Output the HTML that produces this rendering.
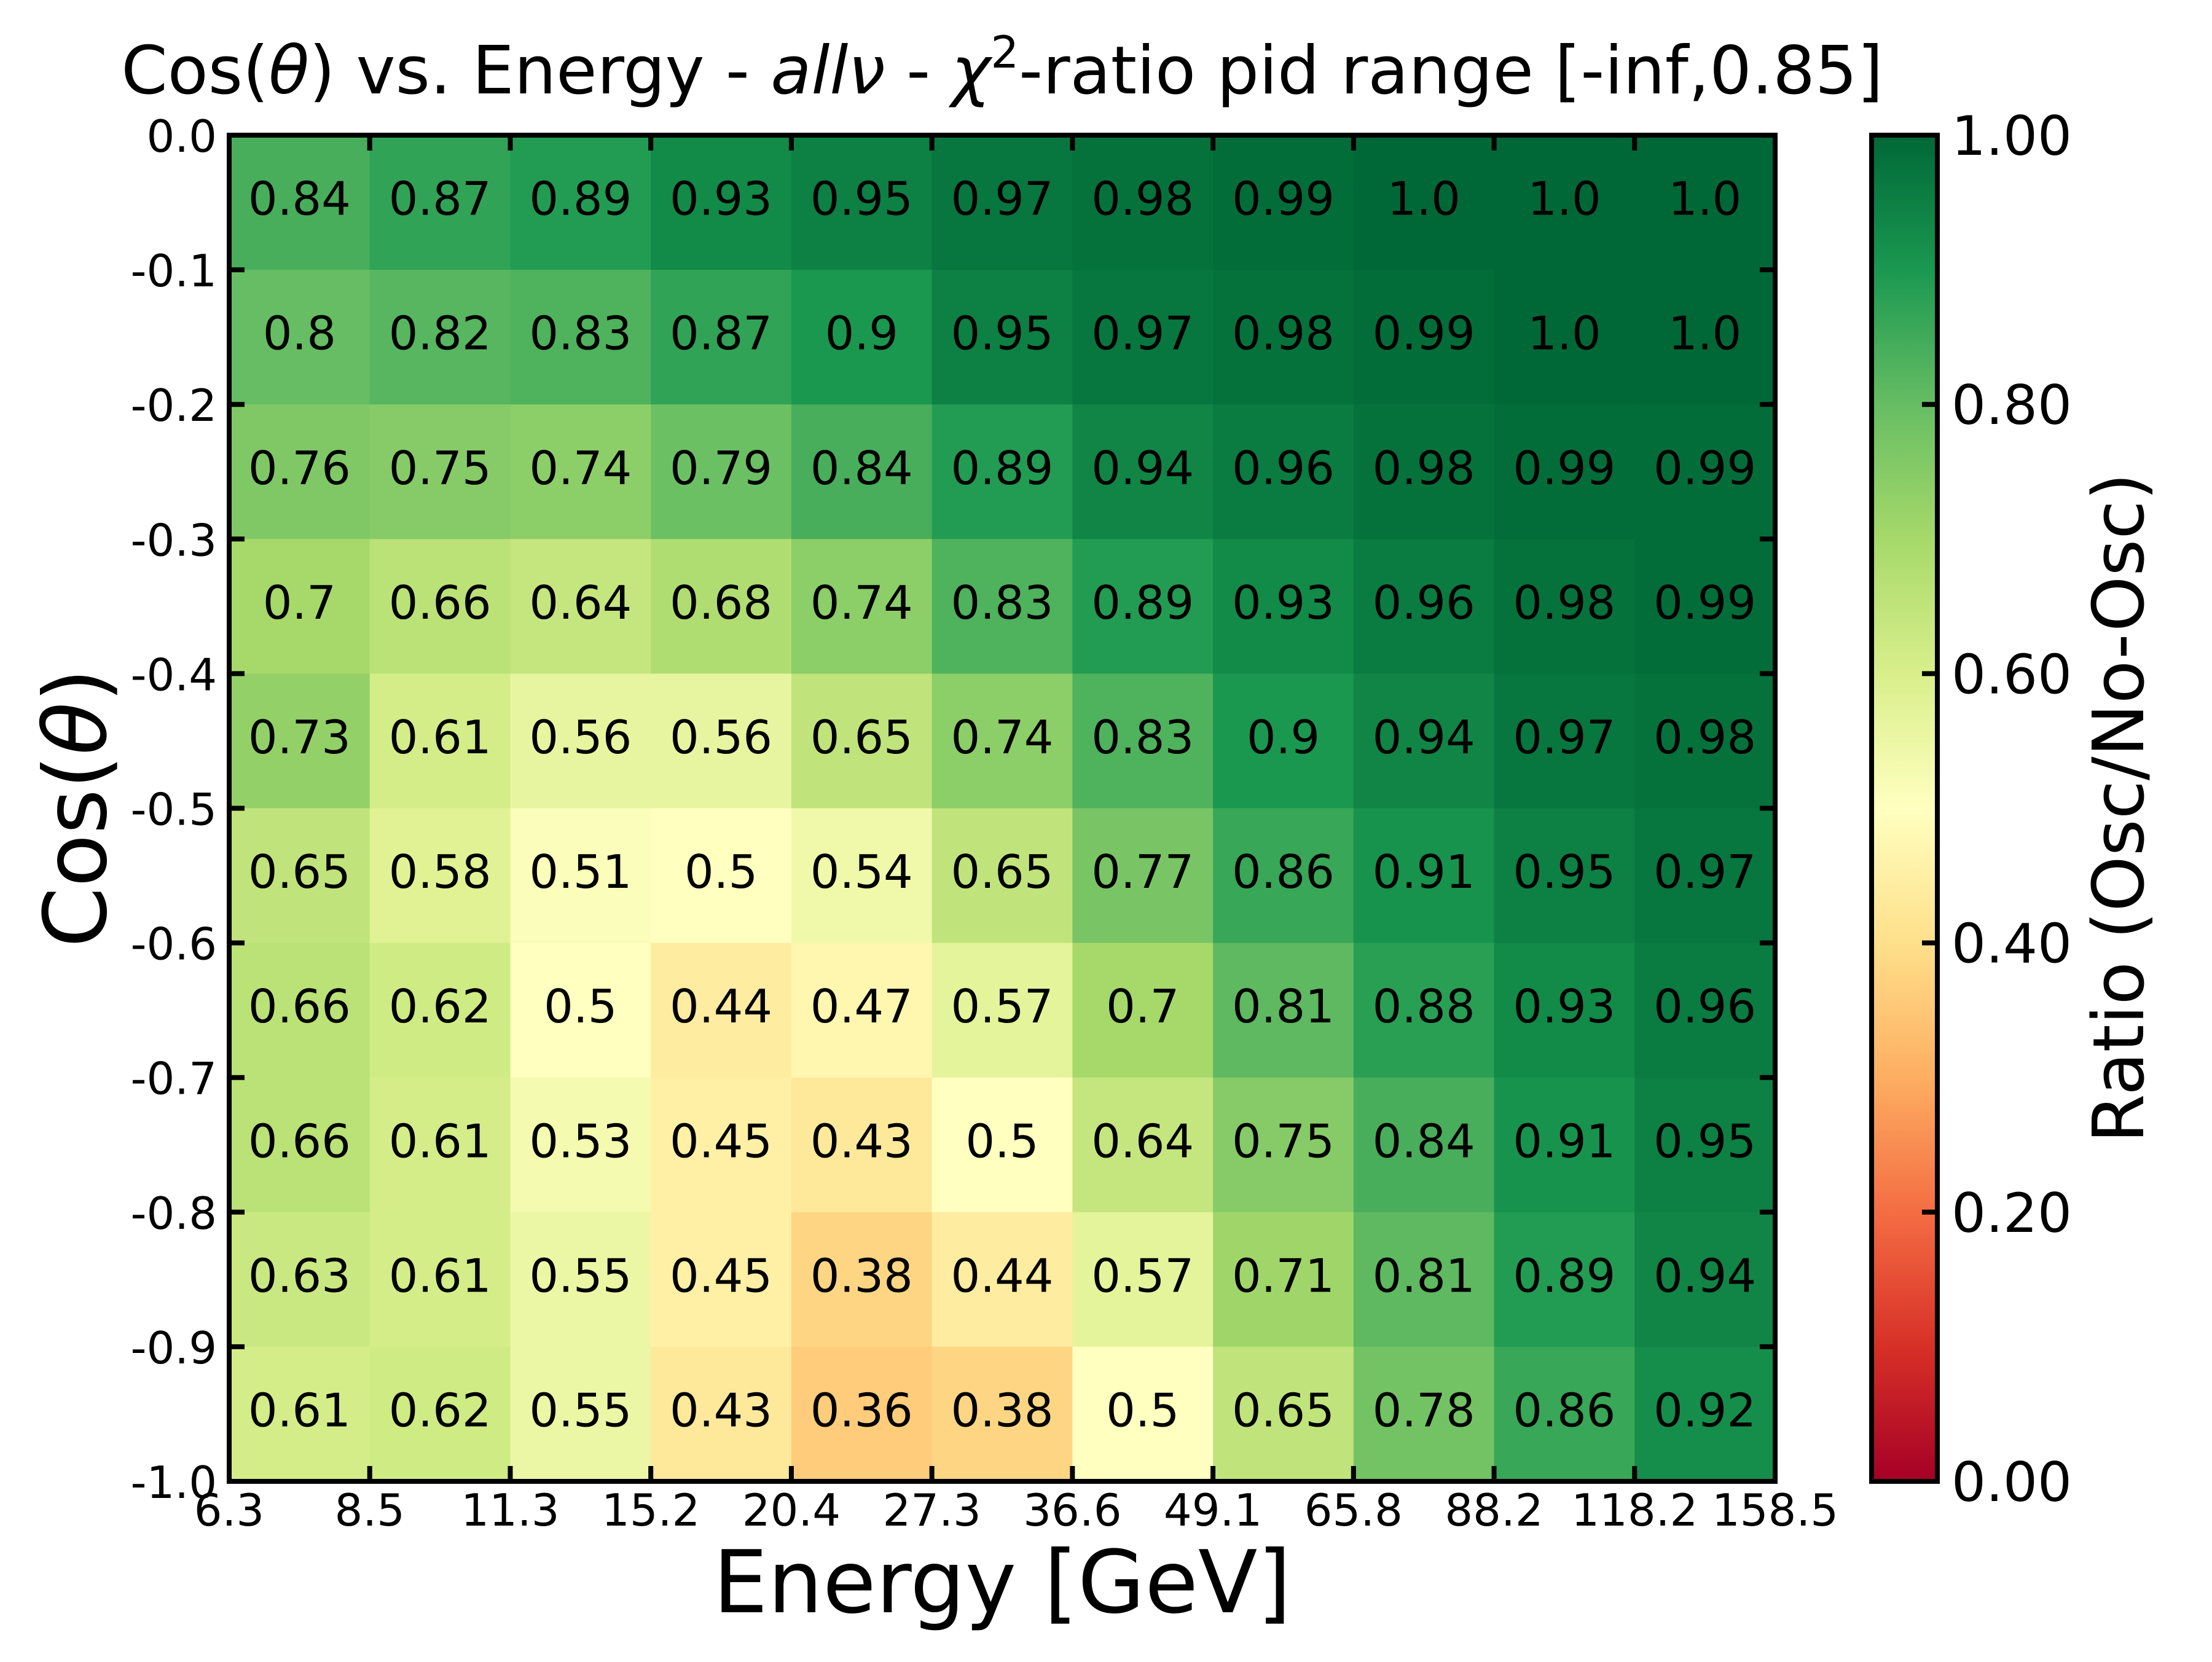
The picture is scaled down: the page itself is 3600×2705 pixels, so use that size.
<!DOCTYPE html>
<html><head><meta charset="utf-8">
<style>
html,body{margin:0;padding:0;background:#fff;}
svg text{font-family:"DejaVu Sans","Liberation Sans",sans-serif;fill:#000;}
</style></head>
<body>
<svg id="chart" width="3600" height="2700" viewBox="0 0 3600 2700" xmlns="http://www.w3.org/2000/svg">
<rect width="3600" height="2700" fill="#fff"/>
<text x="1631" y="152" font-size="108" text-anchor="middle">Cos(<tspan font-style="italic">θ</tspan>) vs. Energy - <tspan font-style="italic">allν</tspan> - <tspan font-style="italic">χ</tspan><tspan font-size="72" dy="-42">2</tspan><tspan dy="42">-ratio pid range [-inf,0.85]</tspan></text>
<g id="cells"></g>
<g id="labels"></g>
<g id="axes"></g>
<text x="1631" y="2624" font-size="141" text-anchor="middle">Energy [GeV]</text>
<text transform="translate(172,1315) rotate(-90)" font-size="141" text-anchor="middle">Cos(<tspan font-style="italic">θ</tspan>)</text>
<defs>
<linearGradient id="cmap" x1="0" y1="1" x2="0" y2="0">
<stop offset="0" stop-color="#a50026"/><stop offset="0.1" stop-color="#d73027"/><stop offset="0.2" stop-color="#f46d43"/><stop offset="0.3" stop-color="#fdae61"/><stop offset="0.4" stop-color="#fee08b"/><stop offset="0.5" stop-color="#ffffbf"/><stop offset="0.6" stop-color="#d9ef8b"/><stop offset="0.7" stop-color="#a6d96a"/><stop offset="0.8" stop-color="#66bd63"/><stop offset="0.9" stop-color="#1a9850"/><stop offset="1" stop-color="#006837"/>
</linearGradient>
</defs>
<g id="cbar"></g>
<text transform="translate(3488,1315) rotate(-90)" font-size="115" text-anchor="middle">Ratio (Osc/No-Osc)</text>
</svg>
<script>
const xEdges = ["6.3","8.5","11.3","15.2","20.4","27.3","36.6","49.1","65.8","88.2","118.2","158.5"];
const yTicks = ["0.0","-0.1","-0.2","-0.3","-0.4","-0.5","-0.6","-0.7","-0.8","-0.9","-1.0"];
const cbTicks = [0, 0.2, 0.4, 0.6, 0.8, 1.0];
const row0 = [0.84,0.87,0.89,0.93,0.95,0.97,0.98,0.99,1.0,1.0,1.0];
const row1 = [0.8,0.82,0.83,0.87,0.9,0.95,0.97,0.98,0.99,1.0,1.0];
const row2 = [0.76,0.75,0.74,0.79,0.84,0.89,0.94,0.96,0.98,0.99,0.99];
const row3 = [0.7,0.66,0.64,0.68,0.74,0.83,0.89,0.93,0.96,0.98,0.99];
const row4 = [0.73,0.61,0.56,0.56,0.65,0.74,0.83,0.9,0.94,0.97,0.98];
const row5 = [0.65,0.58,0.51,0.5,0.54,0.65,0.77,0.86,0.91,0.95,0.97];
const row6 = [0.66,0.62,0.5,0.44,0.47,0.57,0.7,0.81,0.88,0.93,0.96];
const row7 = [0.66,0.61,0.53,0.45,0.43,0.5,0.64,0.75,0.84,0.91,0.95];
const row8 = [0.63,0.61,0.55,0.45,0.38,0.44,0.57,0.71,0.81,0.89,0.94];
const row9 = [0.61,0.62,0.55,0.43,0.36,0.38,0.5,0.65,0.78,0.86,0.92];
const rows = [row0,row1,row2,row3,row4,row5,row6,row7,row8,row9];

const NS = "http://www.w3.org/2000/svg";
const L = 373, R = 2889, T = 220, B = 2411;
const nCols = xEdges.length - 1, nRows = yTicks.length - 1;
const colW = (R - L) / nCols, rowH = (B - T) / nRows;
function xPos(i){ return L + i * colW; }
function yPos(j){ return T + j * rowH; }
const stops = ["#a50026","#d73027","#f46d43","#fdae61","#fee08b","#ffffbf","#d9ef8b","#a6d96a","#66bd63","#1a9850","#006837"];
function hex(h){ return [1,3,5].map(k=>parseInt(h.substr(k,2),16)); }
function cmap(v){
  v = Math.max(0, Math.min(1, v));
  const p = v * 10, i = Math.min(9, Math.floor(p)), f = p - i;
  const a = hex(stops[i]), b = hex(stops[i+1]);
  return "rgb(" + a.map((c,k)=>Math.round(c + (b[k]-c)*f)).join(",") + ")";
}
function mk(tag, attrs, parent){
  const e = document.createElementNS(NS, tag);
  for (const k in attrs) e.setAttribute(k, attrs[k]);
  parent.appendChild(e); return e;
}
const cells = document.getElementById("cells");
const labels = document.getElementById("labels");
rows.forEach((row, j) => {
  row.forEach((v, i) => {
    const r = mk("rect", {x: xPos(i), y: yPos(j), width: colW + 0.5, height: rowH + 0.5, fill: cmap(v)}, cells);
    
    
    const t = mk("text", {x: xPos(i) + colW/2, y: yPos(j) + rowH/2 + 20, "font-size": 75, "text-anchor": "middle"}, labels);
    
    
    t.textContent = String(v).replace(/^1$/, "1.0");
  });
});
const axes = document.getElementById("axes");
xEdges.forEach((lab, i) => {
  const x = xPos(i);
  if (i > 0 && i < nCols) {
    const t1 = mk("line", {x1: x, x2: x, y1: T, y2: T + 25, stroke: "#000", "stroke-width": 8}, axes);
    
    
    const t2 = mk("line", {x1: x, x2: x, y1: B, y2: B - 25, stroke: "#000", "stroke-width": 8}, axes);
    
    
  }
  const tx = mk("text", {x: x, y: 2483, "font-size": 72, "text-anchor": "middle"}, axes);
  
  
  tx.textContent = lab;
});
yTicks.forEach((lab, j) => {
  const y = yPos(j);
  if (j > 0 && j < nRows) {
    const t1 = mk("line", {x1: L, x2: L + 25, y1: y, y2: y, stroke: "#000", "stroke-width": 8}, axes);
    
    
    const t2 = mk("line", {x1: R, x2: R - 25, y1: y, y2: y, stroke: "#000", "stroke-width": 8}, axes);
    
    
  }
  const ty = mk("text", {x: 353, y: y + 27, "font-size": 72, "text-anchor": "end"}, axes);
  
  
  ty.textContent = lab;
});
const frame = mk("rect", {x: L, y: T, width: R - L, height: B - T, fill: "none", stroke: "#000", "stroke-width": 8}, axes);



const cb = document.getElementById("cbar");
const CL = 3046, CR = 3153;
function cbY(v){ return B - v * (B - T); }
const grad = mk("rect", {x: CL, y: T, width: CR - CL, height: B - T, fill: "url(#cmap)", stroke: "#000", "stroke-width": 8}, cb);


cbTicks.forEach(v => {
  const y = cbY(v);
  if (v > 0 && v < 1) {
    const tk = mk("line", {x1: CR, x2: CR - 25, y1: y, y2: y, stroke: "#000", "stroke-width": 8}, cb);
    
    
  }
  const tl = mk("text", {x: 3176, y: y + 32, "font-size": 88}, cb);
  
  
  tl.textContent = v.toFixed(2);
});
</script>
</body></html>
